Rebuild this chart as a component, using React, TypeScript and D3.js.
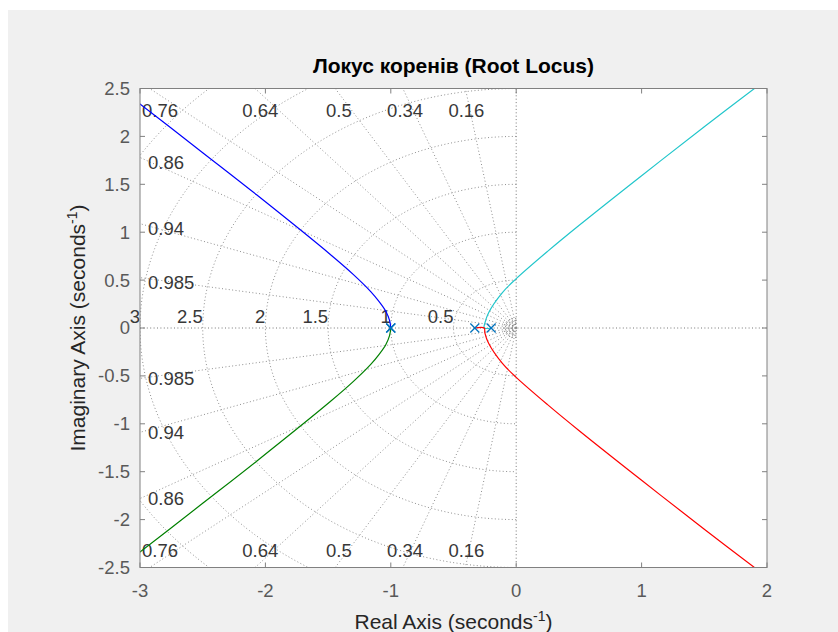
import * as d3 from "d3";

// axes box in page pixels
const BOX = { left: 140, right: 767, top: 88.5, bottom: 567.5 };
const FONT = "'Liberation Sans', Arial, Helvetica, sans-serif";

const X_DOMAIN = [-3, 2];
const Y_DOMAIN = [-2.5, 2.5];
const X_TICKS = [-3, -2, -1, 0, 1, 2];
const Y_TICKS = [-2.5, -2, -1.5, -1, -0.5, 0, 0.5, 1, 1.5, 2, 2.5];

// damping ratios labelled on top/bottom edges and on the left edge
const ZETA_EDGE = [0.76, 0.64, 0.5, 0.34, 0.16];
const ZETA_LEFT = [0.86, 0.94, 0.985];
// natural frequencies
const WN_LABELS = [3, 2.5, 2, 1.5, 1, 0.5];
const WN_CIRCLES = [0.5, 1, 1.5, 2, 2.5, 3, 3.5, 4];
const WN_SMALL = [0.04, 0.06, 0.08, 0.1];

const POLES = [-1, -1, -0.33, -0.2];

// branches: [re, im]
const BRANCH_BLUE: [number, number][] = [
  [-1, 0], [-1.01, 0.08], [-1.04, 0.175], [-1.09, 0.27], [-1.16, 0.38],
  [-1.3, 0.56], [-1.48, 0.765], [-2.07, 1.39], [-2.5, 1.83], [-3.1, 2.44],
];
const BRANCH_GREEN: [number, number][] = [
  [-1, 0], [-1.01, -0.08], [-1.04, -0.175], [-1.09, -0.27], [-1.16, -0.38],
  [-1.3, -0.56], [-1.48, -0.765], [-2.07, -1.39], [-2.5, -1.83], [-3.1, -2.44],
];
const BRANCH_CYAN: [number, number][] = [
  [-0.2, 0], [-0.255, 0], [-0.25, 0.05], [-0.22, 0.16], [-0.11, 0.37],
  [0, 0.515], [0.25, 0.8], [0.5, 1.07], [1.0, 1.59], [1.5, 2.1], [1.95, 2.55],
];
const BRANCH_RED: [number, number][] = [
  [-0.33, 0], [-0.255, 0], [-0.25, -0.05], [-0.22, -0.16], [-0.11, -0.37],
  [0, -0.515], [0.25, -0.8], [0.5, -1.07], [1.0, -1.59], [1.5, -2.1], [1.95, -2.55],
];

const BRANCHES = [
  { pts: BRANCH_BLUE, color: "#0000ff" },
  { pts: BRANCH_GREEN, color: "#008000" },
  { pts: BRANCH_CYAN, color: "#22c6cb" },
  { pts: BRANCH_RED, color: "#ff0000" },
];

export default function App() {
  const x = d3.scaleLinear().domain(X_DOMAIN).range([BOX.left, BOX.right]);
  const y = d3.scaleLinear().domain(Y_DOMAIN).range([BOX.bottom, BOX.top]);

  const locusLine = d3
    .line<[number, number]>()
    .x((d) => x(d[0]))
    .y((d) => y(d[1]))
    .curve(d3.curveCatmullRom.alpha(0.5));

  // left half-plane circle of radius r, in data units
  const arc = (r: number) => {
    const angles = d3.range(90, 270.5, 2).map((a) => (a * Math.PI) / 180);
    return d3
      .line<number>()
      .x((a) => x(r * Math.cos(a)))
      .y((a) => y(r * Math.sin(a)))(angles);
  };

  const allZeta = [...ZETA_EDGE, ...ZETA_LEFT];
  const far = 10;
  const gridColor = "#8f8f8f";
  const dots = "1 2.4";

  const edgeY = 2.45;
  const zetaX = (z: number, im: number) => -Math.abs(im) * z / Math.sqrt(1 - z * z);

  return (
    <svg
      width={838}
      height={632}
      style={{ position: "absolute", left: 0, top: 0, fontFamily: FONT }}
    >
      <rect x={0} y={0} width={838} height={632} fill="#ffffff" />
      <rect x={8} y={10} width={830} height={622} fill="#f0f0f0" />
      <defs>
        <clipPath id="axclip">
          <rect x={BOX.left} y={BOX.top} width={BOX.right - BOX.left} height={BOX.bottom - BOX.top} />
        </clipPath>
      </defs>
      <rect
        x={BOX.left}
        y={BOX.top}
        width={BOX.right - BOX.left}
        height={BOX.bottom - BOX.top}
        fill="#ffffff"
      />

      <g clipPath="url(#axclip)" fill="none" stroke={gridColor} strokeWidth={1} strokeDasharray={dots}>
        {allZeta.map((z) => {
          const th = Math.acos(z);
          return (
            <g key={"z" + z}>
              <line x1={x(0)} y1={y(0)} x2={x(-far * Math.cos(th))} y2={y(far * Math.sin(th))} />
              <line x1={x(0)} y1={y(0)} x2={x(-far * Math.cos(th))} y2={y(-far * Math.sin(th))} />
            </g>
          );
        })}
        {WN_CIRCLES.map((r) => (
          <path key={"w" + r} d={arc(r) || ""} />
        ))}
        {WN_SMALL.map((r) => (
          <path key={"s" + r} d={arc(r) || ""} stroke="#555" />
        ))}
        <line x1={BOX.left} x2={BOX.right} y1={y(0)} y2={y(0)} stroke="#777" />
        <line x1={x(0)} x2={x(0)} y1={BOX.top} y2={BOX.bottom} stroke="#777" />
      </g>

      {/* damping labels */}
      <g fontSize={18.5} fill="#383838">
        {ZETA_EDGE.map((z) => {
          const cx = Math.max(x(zetaX(z, edgeY)), BOX.left + 20);
          return (
            <g key={"lz" + z}>
              <text x={cx} y={BOX.top + 28} textAnchor="middle">{String(z)}</text>
              <text x={cx} y={BOX.bottom - 11} textAnchor="middle">{String(z)}</text>
            </g>
          );
        })}
        {ZETA_LEFT.map((z) => {
          const im = 3 * Math.sqrt(1 - z * z) / z;
          return (
            <g key={"ll" + z}>
              <text x={BOX.left + 8} y={y(im) + 5} dy="0.35em">{String(z)}</text>
              <text x={BOX.left + 8} y={y(-im)} dy="0.35em">{String(z)}</text>
            </g>
          );
        })}
        {WN_LABELS.map((w) => (
          <text key={"wl" + w} x={x(-w)} y={y(0) - 5} textAnchor="end">{String(w)}</text>
        ))}
      </g>

      {/* root locus branches */}
      <g clipPath="url(#axclip)" fill="none" strokeWidth={1.2}>
        {BRANCHES.map((b, i) => (
          <path key={"b" + i} d={locusLine(b.pts) || ""} stroke={b.color} />
        ))}
      </g>

      {/* poles */}
      <g stroke="#0072bd" strokeWidth={1.3}>
        {POLES.map((p, i) => (
          <g key={"p" + i} transform={`translate(${x(p)},${y(0)})`}>
            <line x1={-4.5} y1={-4.5} x2={4.5} y2={4.5} />
            <line x1={-4.5} y1={4.5} x2={4.5} y2={-4.5} />
          </g>
        ))}
      </g>

      {/* axes box and ticks */}
      <g stroke="#808080" strokeWidth={1} fill="none">
        <rect
          x={BOX.left}
          y={BOX.top}
          width={BOX.right - BOX.left}
          height={BOX.bottom - BOX.top}
        />
        {X_TICKS.map((t) => (
          <g key={"xt" + t}>
            <line x1={x(t)} x2={x(t)} y1={BOX.bottom} y2={BOX.bottom - 5} />
            <line x1={x(t)} x2={x(t)} y1={BOX.top} y2={BOX.top + 5} />
          </g>
        ))}
        {Y_TICKS.map((t) => (
          <g key={"yt" + t}>
            <line x1={BOX.left} x2={BOX.left + 5} y1={y(t)} y2={y(t)} />
            <line x1={BOX.right} x2={BOX.right - 5} y1={y(t)} y2={y(t)} />
          </g>
        ))}
      </g>

      <g fontSize={18.5} fill="#595959">
        {X_TICKS.map((t) => (
          <text key={"xl" + t} x={x(t)} y={596.5} textAnchor="middle">{String(t)}</text>
        ))}
        {Y_TICKS.map((t) => (
          <text key={"yl" + t} x={BOX.left - 10} y={y(t)} dy="0.35em" textAnchor="end">{String(t)}</text>
        ))}
      </g>

      <text
        x={(BOX.left + BOX.right) / 2}
        y={73}
        textAnchor="middle"
        fontSize={21}
        fontWeight="bold"
        fill="#000"
      >
        Локус коренів (Root Locus)
      </text>
      <text x={(BOX.left + BOX.right) / 2} y={629} textAnchor="middle" fontSize={21} fill="#262626">
        Real Axis (seconds
        <tspan fontSize={14} dy={-8}>-1</tspan>
        <tspan dy={8}>)</tspan>
      </text>
      <text
        transform={`translate(85,${y(0)}) rotate(-90)`}
        textAnchor="middle"
        fontSize={21}
        fill="#262626"
      >
        Imaginary Axis (seconds
        <tspan fontSize={14} dy={-8}>-1</tspan>
        <tspan dy={8}>)</tspan>
      </text>
    </svg>
  );
}
